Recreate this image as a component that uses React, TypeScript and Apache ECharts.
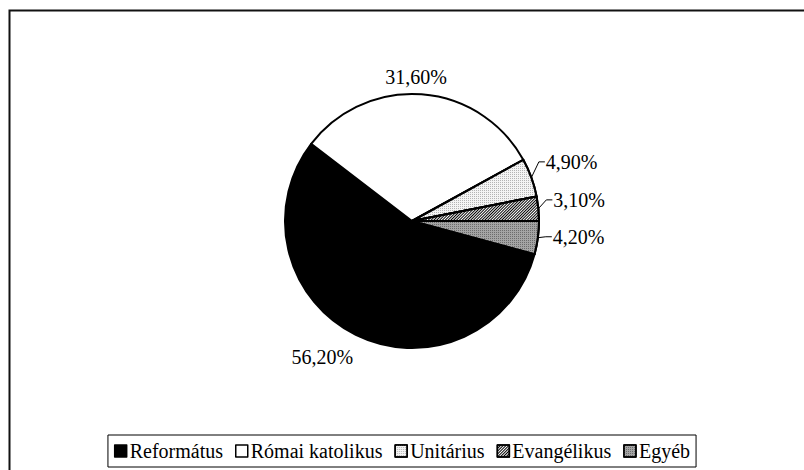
import React, { useEffect, useRef } from 'react';
import * as echarts from 'echarts';

const categories = ['Református', 'Római katolikus', 'Unitárius', 'Evangélikus', 'Egyéb'];
const values = [56.2, 31.6, 4.9, 3.1, 4.2];

const FONT = "'Liberation Serif', 'Times New Roman', serif";

const sliceStyles: any[] = [
  { color: '#000000' },
  { color: '#ffffff' },
  {
    color: '#f4f4f4',
    decal: { symbol: 'rect', symbolSize: 1, dashArrayX: [1, 1], dashArrayY: [1, 1], color: '#b4b4b4', rotation: 0 },
  },
  {
    color: '#ffffff',
    decal: { symbol: 'rect', symbolSize: 1, dashArrayX: [1, 0], dashArrayY: [1, 1], color: '#000000', rotation: -Math.PI / 4 },
  },
  {
    color: '#a4a4a4',
    decal: { symbol: 'rect', symbolSize: 1, dashArrayX: [1, 1], dashArrayY: [1, 1], color: '#6c6c6c', rotation: 0 },
  },
];

// label nudges (dx, dy) relative to ECharts' default outside placement
const labelShift: [number, number][] = [
  [8, 15],
  [-44, -9],
  [0, -13],
  [0, -8],
  [0, -2],
];

export default function App() {
  const ref = useRef<HTMLDivElement>(null);
  useEffect(() => {
    if (!ref.current) return;
    const chart = echarts.init(ref.current, undefined, { renderer: 'svg' });
    chart.setOption({
      animation: false,
      backgroundColor: '#ffffff',
      graphic: [
        {
          type: 'rect',
          shape: { x: 9.5, y: 10.5, width: 900, height: 600 },
          style: { fill: 'none', stroke: '#111', lineWidth: 2 },
          silent: true,
        },
      ],
      legend: {
        data: categories,
        left: 'center',
        top: 435,
        orient: 'horizontal',
        icon: 'rect',
        itemWidth: 12,
        itemHeight: 12,
        itemGap: 12,
        padding: [6, 6, 6, 6],
        borderColor: '#000',
        borderWidth: 1,
        textStyle: { fontFamily: FONT, fontSize: 20, color: '#000', padding: [0, 0, 0, -2] },
        itemStyle: { borderColor: '#000', borderWidth: 1.5 },
        selectedMode: false,
      },
      series: [
        {
          type: 'pie',
          center: [412, 221],
          radius: 127,
          startAngle: -15.12,
          clockwise: true,
          avoidLabelOverlap: false,
          emphasis: { disabled: true },
          label: {
            show: true,
            position: 'outside',
            formatter: (p: any) => p.value.toFixed(2).replace('.', ',') + '%',
            fontFamily: FONT,
            fontSize: 20,
            color: '#000',
            distanceToLabelLine: 1,
          },
          labelLine: { show: true, length: 8, length2: 6, lineStyle: { color: '#000', width: 1 } },
          labelLayout: (params: any) => {
            const [dx, dy] = labelShift[params.dataIndex];
            const out: any = { dx, dy };
            const pts = params.labelLinePoints;
            if (pts && params.dataIndex >= 2) {
              out.labelLinePoints = [
                [pts[0][0], pts[0][1]],
                [pts[1][0], pts[1][1] + dy],
                [pts[2][0], pts[2][1] + dy],
              ];
            }
            return out;
          },
          itemStyle: { borderColor: '#000', borderWidth: 2 },
          data: categories.map((name, i) => ({
            name,
            value: values[i],
            itemStyle: sliceStyles[i],
            labelLine: { show: i >= 2 },
          })),
        },
      ],
    });
    return () => chart.dispose();
  }, []);
  return <div ref={ref} style={{ position: 'fixed', left: 0, top: 0, width: 804, height: 470 }} />;
}
